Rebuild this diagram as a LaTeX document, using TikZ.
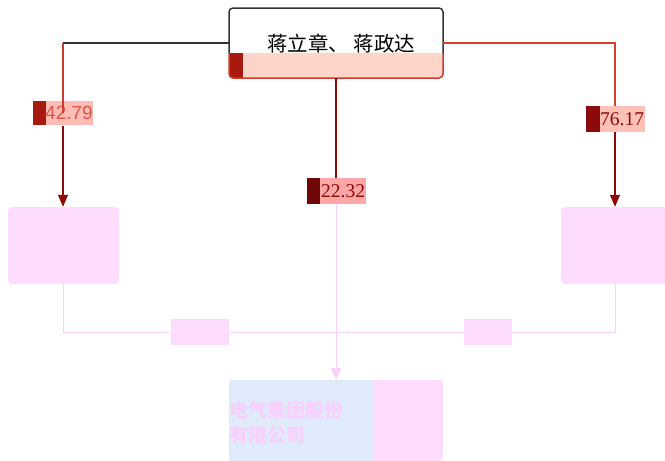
\documentclass[tikz,border=0pt]{standalone}
\usepackage{fontspec}
\newfontfamily\cjk{Noto Sans CJK SC}
\newfontfamily\numsans{Liberation Sans}
\newfontfamily\numserif{Liberation Serif}
\usetikzlibrary{arrows.meta,positioning}
\definecolor{dkgray}{HTML}{333333}
\definecolor{salmon}{HTML}{FFD5CA}
\definecolor{strip}{HTML}{A81A10}
\definecolor{redln}{HTML}{D03A2C}
\definecolor{dkred}{HTML}{8B0A0A}
\definecolor{pinkbox}{HTML}{FDDCFD}
\definecolor{pinkln}{HTML}{FBCFFB}
\definecolor{bluebox}{HTML}{DFEBFB}
\tikzset{
  softbox/.style={draw=none,fill=pinkbox,rounded corners=4pt,minimum width=111pt,minimum height=77pt,inner sep=0pt},
  pinklab/.style={draw=none,fill=pinkbox,minimum width=58pt,minimum height=26pt,inner sep=0pt},
  pinkline/.style={draw=pinkln,line width=1pt},
  arr/.style={-{Triangle[width=10pt,length=12pt]}},
  pct/.style={inner sep=0pt,minimum height=25pt,text depth=0pt,anchor=west},
}
\begin{document}
\begin{tikzpicture}[x=1pt,y=-1pt]
\useasboundingbox (0,0) rectangle (665,461);
% top node
\node[draw=none,minimum width=214pt,minimum height=70pt,inner sep=0pt] (top) at (336,43) {};
\begin{scope}
  \clip[rounded corners=4pt] (229,8) rectangle (443,78);
  \fill[white] (229,8) rectangle (443,78);
  \fill[salmon] (229,53) rectangle (443,78);
  \fill[strip] (229,53) rectangle (243,78);
  \node[anchor=west,inner sep=0pt,font=\cjk\fontsize{20.5}{22}\selectfont,text=black] (toptext) at (267,44) {蒋立章、\ 蒋政达};
\end{scope}
\draw[dkgray,line width=1.5pt,rounded corners=4pt] (229,53) -- (229,8) -- (443,8) -- (443,53);
\draw[redln,line width=1.5pt,rounded corners=4pt] (229,53) -- (229,78) -- (443,78) -- (443,53);
% left / right / bottom boxes
\node[softbox] (L) at (63.5,245.5) {};
\node[softbox,minimum width=108pt] (R) at (615,245.5) {};
\begin{scope}
  \clip[rounded corners=3pt] (229,380) rectangle (443,461);
  \fill[pinkbox] (229,380) rectangle (443,461);
  \fill[bluebox] (229,380) rectangle (373,461);
\end{scope}
\node[draw=none,minimum width=214pt,minimum height=81pt,inner sep=0pt] (B) at (336,420.5) {};
\node[anchor=north west,align=left,inner sep=0pt,text=pinkln,font=\cjk\bfseries\fontsize{19}{25}\selectfont] (btext) at (229,401) {电气集团股份\\有限公司};
% percentage labels
\node[pct,minimum width=60pt] (p1) at (33,113) {};
\fill[strip] (33,101) rectangle (46,125);
\fill[salmon!85!red!90] (46,101) rectangle (93,125);
\node[anchor=west,inner sep=0pt,text=redln!85,font=\numsans\fontsize{19}{21}\selectfont] at (45,113) {42.79};
\node[pct,minimum width=59pt,minimum height=26pt] (p2) at (586,119) {};
\fill[dkred] (586,106) rectangle (600,132);
\fill[salmon!90!red] (600,106) rectangle (645,132);
\node[anchor=west,inner sep=0pt,text=dkred,font=\numserif\fontsize{19.5}{22}\selectfont] at (600,119) {76.17};
\node[pct,minimum width=59pt,minimum height=26pt] (p3) at (307,191) {};
\fill[dkred!80!black] (307,178) rectangle (320,204);
\fill[red!35] (320,178) rectangle (366,204);
\node[anchor=west,inner sep=0pt,text=dkred,font=\numserif\fontsize{19.5}{22}\selectfont] at (321,191) {22.32};
% top connectors
\coordinate (cl) at (63,43);
\coordinate (cr) at (615,43);
\draw[dkgray,line width=1.2pt] (top.west) -- (cl);
\draw[redln,line width=1.2pt] (cl) -- (p1.west -| cl) ;
\draw[dkred,line width=1.2pt,arr] (p1.south -| cl) -- (L.north -| cl);
\draw[redln!90!orange,line width=1.2pt] (top.east) -- (cr) -- (p2.north -| cr);
\draw[dkred,line width=1.2pt,arr] (p2.south -| cr) -- (R.north -| cr);
\draw[dkred,line width=1.2pt] (top.south) -- (p3.north -| top.south);
\draw[pinkline,arr] (p3.south -| top.south) -- (B.north);
% bottom pink connectors
\node[pinklab] (q1) at (200,332) {};
\node[pinklab,minimum width=48pt] (q2) at (488,332) {};
\draw[pinkline] (L.south) |- (q1.west);
\draw[pinkline] (q1.east) -- (q2.west);
\draw[pinkline] (q2.east) -| (R.south -| cr);
\end{tikzpicture}
\end{document}
